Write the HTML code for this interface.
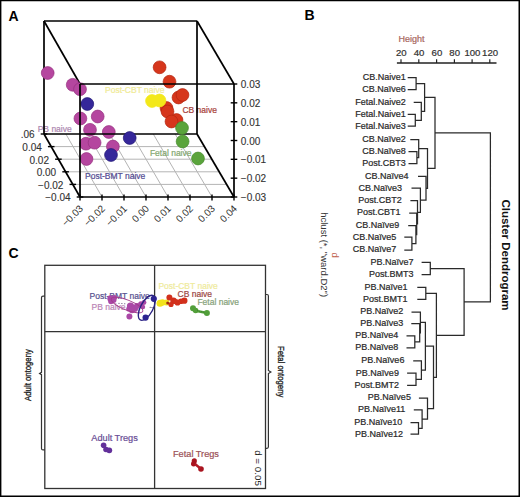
<!DOCTYPE html>
<html><head><meta charset="utf-8"><title>Figure</title>
<style>
html,body{margin:0;padding:0;background:#fff;}
body{width:520px;height:497px;overflow:hidden;}
svg{display:block;font-family:"Liberation Sans", sans-serif;}
</style></head>
<body>
<svg width="520" height="497" viewBox="0 0 520 497">
<rect width="520" height="497" fill="#fff"/>
<line x1="65.86" y1="134" x2="102" y2="197" stroke="#b4b4b4" stroke-width="1" />
<line x1="87.71" y1="134" x2="124" y2="197" stroke="#b4b4b4" stroke-width="1" />
<line x1="109.57" y1="134" x2="146" y2="197" stroke="#b4b4b4" stroke-width="1" />
<line x1="131.43" y1="134" x2="168" y2="197" stroke="#b4b4b4" stroke-width="1" />
<line x1="153.29" y1="134" x2="190" y2="197" stroke="#b4b4b4" stroke-width="1" />
<line x1="175.14" y1="134" x2="212" y2="197" stroke="#b4b4b4" stroke-width="1" />
<line x1="51.2" y1="146.6" x2="204.4" y2="146.6" stroke="#b4b4b4" stroke-width="1" />
<line x1="58.4" y1="159.2" x2="211.8" y2="159.2" stroke="#b4b4b4" stroke-width="1" />
<line x1="65.6" y1="171.8" x2="219.2" y2="171.8" stroke="#b4b4b4" stroke-width="1" />
<line x1="72.8" y1="184.4" x2="226.6" y2="184.4" stroke="#b4b4b4" stroke-width="1" />
<text x="37.7" y="131.7" font-size="8.5" fill="#ad88b0" text-anchor="start" font-weight="normal" stroke="#ad88b0" stroke-width="0.22" >PB naive</text>
<text x="105" y="93" font-size="8.5" fill="#f0eb96" text-anchor="start" font-weight="normal" stroke="#f0eb96" stroke-width="0.22" >Post-CBT naive</text>
<text x="182.4" y="113.2" font-size="8.5" fill="#a8423a" text-anchor="start" font-weight="normal" stroke="#a8423a" stroke-width="0.22" >CB naive</text>
<text x="149.9" y="155.6" font-size="8.5" fill="#84a870" text-anchor="start" font-weight="normal" stroke="#84a870" stroke-width="0.22" >Fetal naive</text>
<text x="85" y="179" font-size="8.5" fill="#544d93" text-anchor="start" font-weight="normal" stroke="#544d93" stroke-width="0.22" >Post-BMT naive</text>
<line x1="44" y1="21" x2="197" y2="21" stroke="#000" stroke-width="1.7" />
<line x1="44" y1="21" x2="44" y2="134" stroke="#000" stroke-width="1.7" />
<line x1="197" y1="21" x2="197" y2="134" stroke="#000" stroke-width="1.7" />
<line x1="44" y1="21" x2="80" y2="84" stroke="#000" stroke-width="1.7" />
<line x1="197" y1="21" x2="234" y2="84" stroke="#000" stroke-width="1.7" />
<line x1="44" y1="134" x2="80" y2="197" stroke="#000" stroke-width="1.7" />
<line x1="197" y1="134" x2="234" y2="197" stroke="#000" stroke-width="1.7" />
<circle cx="47.7" cy="73" r="6.4" fill="#b5469f" stroke="#96307f" stroke-width="0.7" />
<circle cx="72.7" cy="84.8" r="6.4" fill="#b5469f" stroke="#96307f" stroke-width="0.7" />
<circle cx="80" cy="89.2" r="6.4" fill="#b5469f" stroke="#96307f" stroke-width="0.7" />
<circle cx="80.4" cy="118.5" r="6.4" fill="#b5469f" stroke="#96307f" stroke-width="0.7" />
<circle cx="97.7" cy="116.5" r="6.4" fill="#b5469f" stroke="#96307f" stroke-width="0.7" />
<circle cx="90" cy="129.8" r="6.4" fill="#b5469f" stroke="#96307f" stroke-width="0.7" />
<circle cx="108.8" cy="132" r="6.4" fill="#b5469f" stroke="#96307f" stroke-width="0.7" />
<circle cx="86" cy="143.7" r="6.4" fill="#b5469f" stroke="#96307f" stroke-width="0.7" />
<circle cx="94.6" cy="142.7" r="6.4" fill="#b5469f" stroke="#96307f" stroke-width="0.7" />
<circle cx="112.9" cy="146.5" r="6.4" fill="#b5469f" stroke="#96307f" stroke-width="0.7" />
<circle cx="86.5" cy="159" r="6.4" fill="#b5469f" stroke="#96307f" stroke-width="0.7" />
<line x1="44" y1="134" x2="197" y2="134" stroke="#000" stroke-width="1.7" />
<circle cx="87.3" cy="104" r="6.4" fill="#35279a" stroke="#231875" stroke-width="0.7" />
<circle cx="129.7" cy="138" r="6.4" fill="#35279a" stroke="#231875" stroke-width="0.7" />
<circle cx="111" cy="155" r="6.4" fill="#35279a" stroke="#231875" stroke-width="0.7" />
<circle cx="159.6" cy="67.3" r="6.4" fill="#d6361c" stroke="#b52510" stroke-width="0.7" />
<circle cx="169.5" cy="81.7" r="6.4" fill="#d6361c" stroke="#b52510" stroke-width="0.7" />
<circle cx="178.5" cy="97.5" r="6.4" fill="#d6361c" stroke="#b52510" stroke-width="0.7" />
<circle cx="182.5" cy="95" r="6.4" fill="#d6361c" stroke="#b52510" stroke-width="0.7" />
<circle cx="166.5" cy="108" r="6.4" fill="#d6361c" stroke="#b52510" stroke-width="0.7" />
<circle cx="167.5" cy="111.5" r="6.4" fill="#d6361c" stroke="#b52510" stroke-width="0.7" />
<circle cx="176.5" cy="120" r="6.4" fill="#d6361c" stroke="#b52510" stroke-width="0.7" />
<circle cx="171.5" cy="121.5" r="6.4" fill="#d6361c" stroke="#b52510" stroke-width="0.7" />
<circle cx="152" cy="101" r="6.4" fill="#f3e81a" stroke="#f3e81a" stroke-width="0.7" />
<circle cx="159.5" cy="100.5" r="6.4" fill="#f3e81a" stroke="#f3e81a" stroke-width="0.7" />
<circle cx="182" cy="128" r="6.4" fill="#5aa43c" stroke="#468a2c" stroke-width="0.7" />
<circle cx="182.6" cy="141.5" r="6.4" fill="#5aa43c" stroke="#468a2c" stroke-width="0.7" />
<circle cx="198" cy="158.5" r="6.4" fill="#5aa43c" stroke="#468a2c" stroke-width="0.7" />
<line x1="80" y1="84" x2="234" y2="84" stroke="#000" stroke-width="1.7" />
<line x1="80" y1="84" x2="80" y2="197" stroke="#000" stroke-width="1.7" />
<line x1="234" y1="84" x2="234" y2="197" stroke="#000" stroke-width="1.7" />
<line x1="80" y1="197" x2="234" y2="197" stroke="#000" stroke-width="1.7" />
<line x1="234" y1="84" x2="237.3" y2="84" stroke="#000" stroke-width="1.4" />
<text x="240.8" y="88" font-size="10" fill="#333" text-anchor="start" font-weight="normal" stroke="#333" stroke-width="0.12" >0.03</text>
<line x1="230.7" y1="102.83" x2="237.3" y2="102.83" stroke="#000" stroke-width="1.4" />
<text x="240.8" y="106.83" font-size="10" fill="#333" text-anchor="start" font-weight="normal" stroke="#333" stroke-width="0.12" >0.02</text>
<line x1="230.7" y1="121.67" x2="237.3" y2="121.67" stroke="#000" stroke-width="1.4" />
<text x="240.8" y="125.67" font-size="10" fill="#333" text-anchor="start" font-weight="normal" stroke="#333" stroke-width="0.12" >0.01</text>
<line x1="230.7" y1="140.5" x2="237.3" y2="140.5" stroke="#000" stroke-width="1.4" />
<text x="240.8" y="144.5" font-size="10" fill="#333" text-anchor="start" font-weight="normal" stroke="#333" stroke-width="0.12" >0.00</text>
<line x1="230.7" y1="159.33" x2="237.3" y2="159.33" stroke="#000" stroke-width="1.4" />
<text x="240.8" y="163.33" font-size="10" fill="#333" text-anchor="start" font-weight="normal" stroke="#333" stroke-width="0.12" >−0.01</text>
<line x1="230.7" y1="178.17" x2="237.3" y2="178.17" stroke="#000" stroke-width="1.4" />
<text x="240.8" y="182.17" font-size="10" fill="#333" text-anchor="start" font-weight="normal" stroke="#333" stroke-width="0.12" >−0.02</text>
<line x1="230.7" y1="197" x2="237.3" y2="197" stroke="#000" stroke-width="1.4" />
<text x="240.8" y="201" font-size="10" fill="#333" text-anchor="start" font-weight="normal" stroke="#333" stroke-width="0.12" >−0.03</text>
<line x1="40.7" y1="134" x2="47.3" y2="134" stroke="#000" stroke-width="1.4" />
<text x="34.6" y="138.3" font-size="10" fill="#333" text-anchor="end" font-weight="normal" stroke="#333" stroke-width="0.12" >.06</text>
<line x1="47.9" y1="146.6" x2="54.5" y2="146.6" stroke="#000" stroke-width="1.4" />
<text x="41.8" y="150.9" font-size="10" fill="#333" text-anchor="end" font-weight="normal" stroke="#333" stroke-width="0.12" >0.04</text>
<line x1="55.1" y1="159.2" x2="61.7" y2="159.2" stroke="#000" stroke-width="1.4" />
<text x="49" y="163.5" font-size="10" fill="#333" text-anchor="end" font-weight="normal" stroke="#333" stroke-width="0.12" >0.02</text>
<line x1="62.3" y1="171.8" x2="68.9" y2="171.8" stroke="#000" stroke-width="1.4" />
<text x="56.2" y="176.1" font-size="10" fill="#333" text-anchor="end" font-weight="normal" stroke="#333" stroke-width="0.12" >0.00</text>
<line x1="69.5" y1="184.4" x2="76.1" y2="184.4" stroke="#000" stroke-width="1.4" />
<text x="63.4" y="188.7" font-size="10" fill="#333" text-anchor="end" font-weight="normal" stroke="#333" stroke-width="0.12" >−0.02</text>
<line x1="76.7" y1="197" x2="83.3" y2="197" stroke="#000" stroke-width="1.4" />
<text x="70.6" y="201.3" font-size="10" fill="#333" text-anchor="end" font-weight="normal" stroke="#333" stroke-width="0.12" >−0.04</text>
<line x1="80" y1="194.5" x2="80" y2="200.5" stroke="#000" stroke-width="1.4" />
<text x="0" y="0" font-size="10" fill="#333" text-anchor="end" transform="translate(83.8,209.2) rotate(-45)">−0.03</text>
<line x1="102" y1="194.5" x2="102" y2="200.5" stroke="#000" stroke-width="1.4" />
<text x="0" y="0" font-size="10" fill="#333" text-anchor="end" transform="translate(105.8,209.2) rotate(-45)">−0.02</text>
<line x1="124" y1="194.5" x2="124" y2="200.5" stroke="#000" stroke-width="1.4" />
<text x="0" y="0" font-size="10" fill="#333" text-anchor="end" transform="translate(127.8,209.2) rotate(-45)">−0.01</text>
<line x1="146" y1="194.5" x2="146" y2="200.5" stroke="#000" stroke-width="1.4" />
<text x="0" y="0" font-size="10" fill="#333" text-anchor="end" transform="translate(149.8,209.2) rotate(-45)">0.00</text>
<line x1="168" y1="194.5" x2="168" y2="200.5" stroke="#000" stroke-width="1.4" />
<text x="0" y="0" font-size="10" fill="#333" text-anchor="end" transform="translate(171.8,209.2) rotate(-45)">0.01</text>
<line x1="190" y1="194.5" x2="190" y2="200.5" stroke="#000" stroke-width="1.4" />
<text x="0" y="0" font-size="10" fill="#333" text-anchor="end" transform="translate(193.8,209.2) rotate(-45)">0.02</text>
<line x1="212" y1="194.5" x2="212" y2="200.5" stroke="#000" stroke-width="1.4" />
<text x="0" y="0" font-size="10" fill="#333" text-anchor="end" transform="translate(215.8,209.2) rotate(-45)">0.03</text>
<line x1="234" y1="194.5" x2="234" y2="200.5" stroke="#000" stroke-width="1.4" />
<text x="0" y="0" font-size="10" fill="#333" text-anchor="end" transform="translate(237.8,209.2) rotate(-45)">0.04</text>
<text x="8.4" y="20.6" font-size="14" fill="#000" text-anchor="start" font-weight="bold" >A</text>
<text x="304.6" y="20.2" font-size="14" fill="#000" text-anchor="start" font-weight="bold" >B</text>
<text x="8.4" y="258" font-size="14" fill="#000" text-anchor="start" font-weight="bold" >C</text>
<text x="398.6" y="42.4" font-size="9" fill="#a8665e" text-anchor="start" font-weight="normal" stroke="#a8665e" stroke-width="0.22" >Height</text>
<line x1="401" y1="59.2" x2="401" y2="63" stroke="#222" stroke-width="1.2" />
<text x="401.3" y="56" font-size="9.6" fill="#333" text-anchor="middle" font-weight="normal" stroke="#333" stroke-width="0.22" >20</text>
<line x1="418.8" y1="59.2" x2="418.8" y2="63" stroke="#222" stroke-width="1.2" />
<text x="419.1" y="56" font-size="9.6" fill="#333" text-anchor="middle" font-weight="normal" stroke="#333" stroke-width="0.22" >40</text>
<line x1="436.6" y1="59.2" x2="436.6" y2="63" stroke="#222" stroke-width="1.2" />
<text x="436.9" y="56" font-size="9.6" fill="#333" text-anchor="middle" font-weight="normal" stroke="#333" stroke-width="0.22" >60</text>
<line x1="454.4" y1="59.2" x2="454.4" y2="63" stroke="#222" stroke-width="1.2" />
<text x="454.7" y="56" font-size="9.6" fill="#333" text-anchor="middle" font-weight="normal" stroke="#333" stroke-width="0.22" >80</text>
<line x1="472.1" y1="59.2" x2="472.1" y2="63" stroke="#222" stroke-width="1.2" />
<text x="472.4" y="56" font-size="9.6" fill="#333" text-anchor="middle" font-weight="normal" stroke="#333" stroke-width="0.22" >100</text>
<line x1="489.8" y1="59.2" x2="489.8" y2="63" stroke="#222" stroke-width="1.2" />
<text x="490.1" y="56" font-size="9.6" fill="#333" text-anchor="middle" font-weight="normal" stroke="#333" stroke-width="0.22" >120</text>
<line x1="396.9" y1="63" x2="496.5" y2="63" stroke="#222" stroke-width="1.3" />
<text x="405.8" y="79.8" font-size="9" fill="#2a2a2a" text-anchor="end" font-weight="normal" stroke="#2a2a2a" stroke-width="0.22" >CB.Naive1</text>
<text x="405.8" y="91.9" font-size="9" fill="#2a2a2a" text-anchor="end" font-weight="normal" stroke="#2a2a2a" stroke-width="0.22" >CB.Naïve6</text>
<text x="405.8" y="104.7" font-size="9" fill="#2a2a2a" text-anchor="end" font-weight="normal" stroke="#2a2a2a" stroke-width="0.22" >Fetal.Naive2</text>
<text x="405.8" y="116.7" font-size="9" fill="#2a2a2a" text-anchor="end" font-weight="normal" stroke="#2a2a2a" stroke-width="0.22" >Fetal.Naive1</text>
<text x="405.8" y="128.5" font-size="9" fill="#2a2a2a" text-anchor="end" font-weight="normal" stroke="#2a2a2a" stroke-width="0.22" >Fetal.Naive3</text>
<text x="405.8" y="141.8" font-size="9" fill="#2a2a2a" text-anchor="end" font-weight="normal" stroke="#2a2a2a" stroke-width="0.22" >CB.Naïve2</text>
<text x="405.8" y="153.9" font-size="9" fill="#2a2a2a" text-anchor="end" font-weight="normal" stroke="#2a2a2a" stroke-width="0.22" >CB.Naïve8</text>
<text x="405.8" y="165.9" font-size="9" fill="#2a2a2a" text-anchor="end" font-weight="normal" stroke="#2a2a2a" stroke-width="0.22" >Post.CBT3</text>
<text x="408.5" y="178.6" font-size="9" fill="#2a2a2a" text-anchor="end" font-weight="normal" stroke="#2a2a2a" stroke-width="0.22" >CB.Naïve4</text>
<text x="402" y="190.5" font-size="9" fill="#2a2a2a" text-anchor="end" font-weight="normal" stroke="#2a2a2a" stroke-width="0.22" >CB.Naïve3</text>
<text x="401.7" y="203" font-size="9" fill="#2a2a2a" text-anchor="end" font-weight="normal" stroke="#2a2a2a" stroke-width="0.22" >Post.CBT2</text>
<text x="400.4" y="215.3" font-size="9" fill="#2a2a2a" text-anchor="end" font-weight="normal" stroke="#2a2a2a" stroke-width="0.22" >Post.CBT1</text>
<text x="399.3" y="227.9" font-size="9" fill="#2a2a2a" text-anchor="end" font-weight="normal" stroke="#2a2a2a" stroke-width="0.22" >CB.Naïve9</text>
<text x="396.4" y="239.5" font-size="9" fill="#2a2a2a" text-anchor="end" font-weight="normal" stroke="#2a2a2a" stroke-width="0.22" >CB.Naïve5</text>
<text x="396.4" y="252.3" font-size="9" fill="#2a2a2a" text-anchor="end" font-weight="normal" stroke="#2a2a2a" stroke-width="0.22" >CB.Naïve7</text>
<text x="413.5" y="264.7" font-size="9" fill="#2a2a2a" text-anchor="end" font-weight="normal" stroke="#2a2a2a" stroke-width="0.22" >PB.Naïve7</text>
<text x="413.5" y="276.9" font-size="9" fill="#2a2a2a" text-anchor="end" font-weight="normal" stroke="#2a2a2a" stroke-width="0.22" >Post.BMT3</text>
<text x="407.5" y="289.6" font-size="9" fill="#2a2a2a" text-anchor="end" font-weight="normal" stroke="#2a2a2a" stroke-width="0.22" >PB.Naïve1</text>
<text x="407.5" y="301.6" font-size="9" fill="#2a2a2a" text-anchor="end" font-weight="normal" stroke="#2a2a2a" stroke-width="0.22" >Post.BMT1</text>
<text x="403.2" y="314.3" font-size="9" fill="#2a2a2a" text-anchor="end" font-weight="normal" stroke="#2a2a2a" stroke-width="0.22" >PB.Naïve2</text>
<text x="403.2" y="326" font-size="9" fill="#2a2a2a" text-anchor="end" font-weight="normal" stroke="#2a2a2a" stroke-width="0.22" >PB.Naïve3</text>
<text x="398.3" y="338.2" font-size="9" fill="#2a2a2a" text-anchor="end" font-weight="normal" stroke="#2a2a2a" stroke-width="0.22" >PB.Naïve4</text>
<text x="398.3" y="350.2" font-size="9" fill="#2a2a2a" text-anchor="end" font-weight="normal" stroke="#2a2a2a" stroke-width="0.22" >PB.Naïve8</text>
<text x="404.4" y="363.2" font-size="9" fill="#2a2a2a" text-anchor="end" font-weight="normal" stroke="#2a2a2a" stroke-width="0.22" >PB.Naïve6</text>
<text x="398.9" y="375.5" font-size="9" fill="#2a2a2a" text-anchor="end" font-weight="normal" stroke="#2a2a2a" stroke-width="0.22" >PB.Naïve9</text>
<text x="398.9" y="387.6" font-size="9" fill="#2a2a2a" text-anchor="end" font-weight="normal" stroke="#2a2a2a" stroke-width="0.22" >Post.BMT2</text>
<text x="410.9" y="400.3" font-size="9" fill="#2a2a2a" text-anchor="end" font-weight="normal" stroke="#2a2a2a" stroke-width="0.22" >PB.Naïve5</text>
<text x="405.4" y="412.1" font-size="9" fill="#2a2a2a" text-anchor="end" font-weight="normal" stroke="#2a2a2a" stroke-width="0.22" >PB.Naïve11</text>
<text x="402.3" y="424.8" font-size="9" fill="#2a2a2a" text-anchor="end" font-weight="normal" stroke="#2a2a2a" stroke-width="0.22" >PB.Naïve10</text>
<text x="403.1" y="436.5" font-size="9" fill="#2a2a2a" text-anchor="end" font-weight="normal" stroke="#2a2a2a" stroke-width="0.22" >PB.Naïve12</text>
<path d="M407.7,77.5H416.1V89.6H407.7 M407.7,114.4H415.3V126.2H407.7 M413.7,102.4H421.3V120.3H415.3 M416.1,83.55H424.6V111.35H421.3 M408.5,151.6H416.9V163.6H408.5 M410.3,139.5H418.7V157.6H416.9 M404.3,237.2H411.9V250H404.3 M408.2,225.6H415.9V243.6H411.9 M409.2,213H416.7V234.6H415.9 M410.4,200.7H417.5V223.8H416.7 M411.5,188.2H420.4V212.25H417.5 M418,176.3H426V200.22H420.4 M418.7,148.55H427.5V188.26H426 M424.6,97.45H435V168.41H427.5 M421.6,262.4H430.3V274.6H421.6 M417.3,287.3H425.8V299.3H417.3 M406.5,335.9H414.8V347.9H406.5 M411.3,323.7H419.7V341.9H414.8 M411.5,312H420.4V332.8H419.7 M407.1,373.2H416V385.3H407.1 M413.2,360.9H421.4V379.25H416 M420.4,322.4H425.4V370.07H421.4 M410.5,422.5H418.5V434.2H410.5 M413.8,409.8H422.1V428.35H418.5 M418.9,398H427.5V419.08H422.1 M425.4,346.24H433.5V408.54H427.5 M425.8,293.3H436.4V377.39H433.5 M430.3,268.5H464.1V335.34H436.4 M435,132.93H490.4V301.92H464.1" fill="none" stroke="#2a2a2a" stroke-width="1.25"/>
<text x="0" y="0" font-size="11.5" font-weight="bold" fill="#111" transform="translate(501.5,199.4) rotate(90)">Cluster Dendrogram</text>
<text x="0" y="0" font-size="9.5" fill="#333" transform="translate(320.6,212.2) rotate(90)">hclust (*, "ward.D2")</text>
<text x="0" y="0" font-size="9.5" fill="#c0604c" transform="translate(332.2,252.6) rotate(90)">d</text>
<rect x="44.8" y="265.3" width="220.7" height="223.2" fill="none" stroke="#333" stroke-width="1.3"/>
<line x1="154.6" y1="265.3" x2="154.6" y2="488.5" stroke="#333" stroke-width="1.3" />
<line x1="44.8" y1="331.6" x2="265.5" y2="331.6" stroke="#333" stroke-width="1.3" />
<path d="M44.8,296.2 H43 Q41.5,296.2 41.5,297.7 V372.3 L39.6,373.5 L41.5,374.7 V448.4 Q41.5,449.9 43,449.9 H44.8" fill="none" stroke="#333" stroke-width="1.2"/>
<path d="M265.5,294.5 H267 Q268.4,294.5 268.4,296 V370.4 L270.9,372 L268.4,373.6 V446.8 Q268.4,448.3 267,448.3 H265.5" fill="none" stroke="#333" stroke-width="1.2"/>
<text x="0" y="0" font-size="9.6" fill="#222" stroke="#222" stroke-width="0.35" transform="translate(30.6,400.9) rotate(-90) scale(0.81,1)">Adult ontogeny</text>
<text x="0" y="0" font-size="9.6" fill="#222" stroke="#222" stroke-width="0.35" transform="translate(277.5,346) rotate(90) scale(0.81,1)">Fetal ontogeny</text>
<text x="0" y="0" font-size="9.8" fill="#222" transform="translate(255,450.2) rotate(90)">d = 0.05</text>
<text x="89.5" y="298.9" font-size="8.5" fill="#57518f" text-anchor="start" font-weight="normal" stroke="#57518f" stroke-width="0.22" >Post-BMT naive</text>
<text x="91.5" y="310.4" font-size="8.5" fill="#bb86b6" text-anchor="start" font-weight="normal" stroke="#bb86b6" stroke-width="0.22" >PB naive</text>
<text x="158.4" y="289.1" font-size="8.5" fill="#efeb9c" text-anchor="start" font-weight="normal" stroke="#efeb9c" stroke-width="0.22" >Post-CBT naive</text>
<text x="177.6" y="297.1" font-size="8.5" fill="#9c4a46" text-anchor="start" font-weight="normal" stroke="#9c4a46" stroke-width="0.22" >CB naive</text>
<text x="197.4" y="305.3" font-size="8.5" fill="#86a27a" text-anchor="start" font-weight="normal" stroke="#86a27a" stroke-width="0.22" >Fetal naive</text>
<text x="91.3" y="440.6" font-size="9.2" fill="#6a4e96" text-anchor="start" font-weight="normal" stroke="#6a4e96" stroke-width="0.22" >Adult Tregs</text>
<text x="173" y="456.6" font-size="9.2" fill="#9c5258" text-anchor="start" font-weight="normal" stroke="#9c5258" stroke-width="0.22" >Fetal Tregs</text>
<circle cx="110.5" cy="298.5" r="3.2" fill="#aa48a6" stroke="none" stroke-width="0.8" />
<circle cx="113.5" cy="300" r="3" fill="#aa48a6" stroke="none" stroke-width="0.8" />
<circle cx="111" cy="301.5" r="2.8" fill="#aa48a6" stroke="none" stroke-width="0.8" />
<circle cx="114.5" cy="297.5" r="2.5" fill="#aa48a6" stroke="none" stroke-width="0.8" />
<circle cx="130.5" cy="306" r="3.6" fill="#aa48a6" stroke="none" stroke-width="0.8" />
<circle cx="134.5" cy="308.5" r="3.6" fill="#aa48a6" stroke="none" stroke-width="0.8" />
<circle cx="132" cy="310" r="3.2" fill="#aa48a6" stroke="none" stroke-width="0.8" />
<circle cx="137" cy="306" r="3" fill="#aa48a6" stroke="none" stroke-width="0.8" />
<circle cx="129" cy="309" r="2.8" fill="#aa48a6" stroke="none" stroke-width="0.8" />
<circle cx="141" cy="304" r="2.8" fill="#aa48a6" stroke="none" stroke-width="0.8" />
<circle cx="144" cy="302.5" r="2.4" fill="#aa48a6" stroke="none" stroke-width="0.8" />
<circle cx="143" cy="307" r="2.2" fill="#aa48a6" stroke="none" stroke-width="0.8" />
<circle cx="129.4" cy="316.5" r="3" fill="#aa48a6" stroke="none" stroke-width="0.8" />
<ellipse cx="127" cy="305" rx="17" ry="5" transform="rotate(22 127 305)" fill="none" stroke="#a03a8a" stroke-width="0.9"/>
<circle cx="119" cy="303.3" r="0.55" fill="#3a2a5a" stroke="none" stroke-width="0.8" />
<circle cx="121.9" cy="303.5" r="0.55" fill="#3a2a5a" stroke="none" stroke-width="0.8" />
<circle cx="124.8" cy="303.7" r="0.55" fill="#3a2a5a" stroke="none" stroke-width="0.8" />
<circle cx="150.2" cy="307.3" r="0.55" fill="#3a2a5a" stroke="none" stroke-width="0.8" />
<circle cx="152" cy="307.5" r="0.55" fill="#3a2a5a" stroke="none" stroke-width="0.8" />
<ellipse cx="146.8" cy="307.8" rx="6.2" ry="13.8" transform="rotate(28 146.8 307.8)" fill="none" stroke="#2a2282" stroke-width="1.4"/>
<circle cx="153.8" cy="298.8" r="3.1" fill="#2c2390" stroke="none" stroke-width="0.8" />
<circle cx="145.6" cy="317.6" r="3.1" fill="#2c2390" stroke="none" stroke-width="0.8" />
<circle cx="160" cy="303.2" r="3.5" fill="#f2e31c" stroke="none" stroke-width="0.8" />
<circle cx="162.5" cy="302.5" r="3.2" fill="#f2e31c" stroke="none" stroke-width="0.8" />
<circle cx="166.5" cy="302.5" r="3" fill="#f2e31c" stroke="none" stroke-width="0.8" />
<circle cx="169.4" cy="297.4" r="3" fill="#d2301c" stroke="none" stroke-width="0.8" />
<circle cx="173.5" cy="300.7" r="3.2" fill="#d2301c" stroke="none" stroke-width="0.8" />
<circle cx="171" cy="304.5" r="2.6" fill="#d2301c" stroke="none" stroke-width="0.8" />
<circle cx="177.5" cy="302.5" r="3.1" fill="#d2301c" stroke="none" stroke-width="0.8" />
<circle cx="181" cy="301.2" r="2.8" fill="#d2301c" stroke="none" stroke-width="0.8" />
<circle cx="184.4" cy="300.7" r="3.1" fill="#d2301c" stroke="none" stroke-width="0.8" />
<circle cx="175.5" cy="301.5" r="2.6" fill="#d2301c" stroke="none" stroke-width="0.8" />
<circle cx="167.7" cy="303" r="1.5" fill="#a02a10" stroke="none" stroke-width="0.8" />
<circle cx="193" cy="308.3" r="3" fill="#529f3a" stroke="none" stroke-width="0.8" />
<circle cx="195.6" cy="310.5" r="2.8" fill="#529f3a" stroke="none" stroke-width="0.8" />
<circle cx="206.9" cy="313" r="3" fill="#529f3a" stroke="none" stroke-width="0.8" />
<line x1="195.6" y1="310.8" x2="206.9" y2="313" stroke="#529f3a" stroke-width="2.4" />
<line x1="197" y1="310.6" x2="205" y2="312.6" stroke="#2f6a22" stroke-width="0.6" stroke-dasharray="1 1"/>
<circle cx="103.6" cy="445.3" r="2.8" fill="#62309a" stroke="none" stroke-width="0.8" />
<circle cx="106" cy="449.5" r="2.8" fill="#62309a" stroke="none" stroke-width="0.8" />
<circle cx="109.3" cy="450.3" r="2.9" fill="#62309a" stroke="none" stroke-width="0.8" />
<circle cx="194.3" cy="460.9" r="2.6" fill="#a8141f" stroke="none" stroke-width="0.8" />
<circle cx="193.6" cy="463.8" r="2.6" fill="#a8141f" stroke="none" stroke-width="0.8" />
<circle cx="201" cy="469" r="2.8" fill="#a8141f" stroke="none" stroke-width="0.8" />
<line x1="195" y1="464" x2="200.5" y2="468.5" stroke="#b31a26" stroke-width="2.4" />
<path d="M0,0H520V1.3H0Z M0,0H1.4V497H0Z M518.5,0H520V497H518.5Z M0,495.5H520V497H0Z" fill="#000"/>
</svg>
</body></html>
